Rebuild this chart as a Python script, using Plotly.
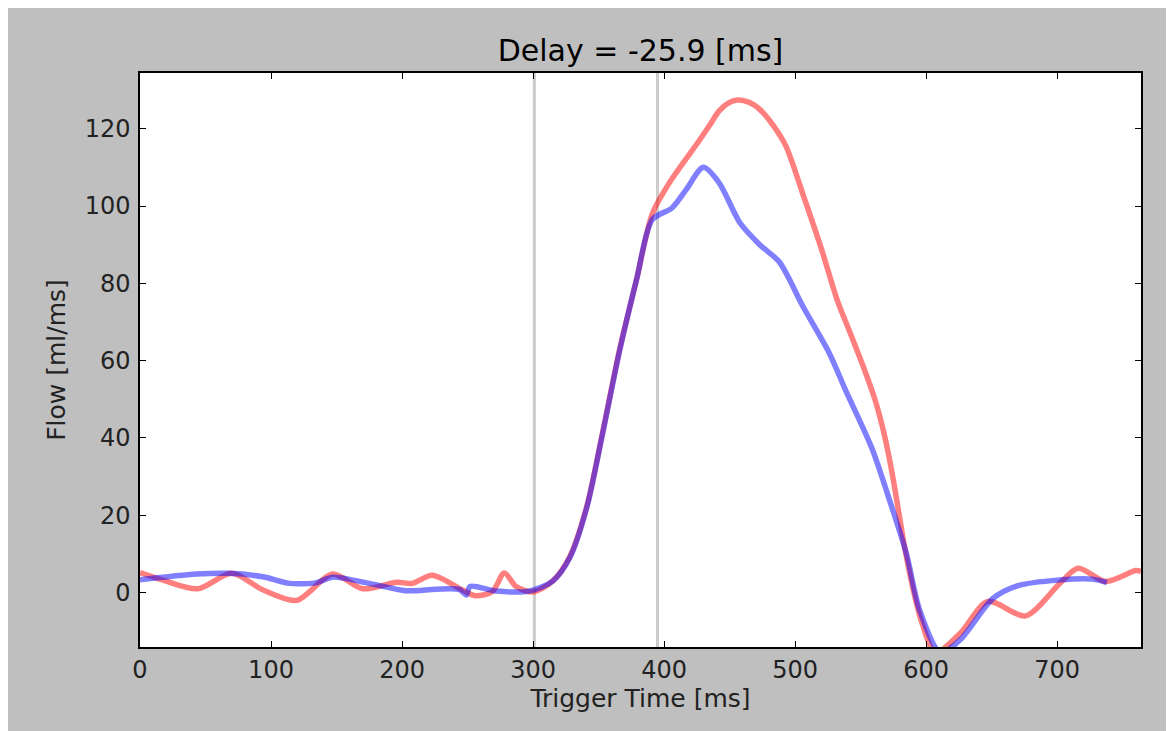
import plotly.graph_objects as go

# Data
red_t = [0, 17, 44, 70, 94, 119.5, 147, 170, 196, 208, 223, 246, 256, 269, 278, 287, 300, 315,
         328, 341, 353, 366, 379, 391, 404, 427, 435, 442, 449, 456, 465, 473, 483, 493, 507, 520, 532,
         542, 552, 561, 568, 574, 579, 584, 590, 597,
         607, 626, 647, 676, 702, 716, 737, 760, 764]
red_flow = [5.2, 3.3, 1.0, 5.0, 0.7, -2.0, 4.8, 1.0, 2.7, 2.4, 4.5, 0.7, -0.8, 0.3, 5.1, 1.6, 0.2, 3.0,
            9.3, 22.3, 41.3, 62.8, 81.0, 98.0, 106.0, 117.0, 121.0, 124.6, 126.6, 127.4, 126.8, 125.0, 121.0, 115.5, 102.0, 89.0, 75.8,
            67.2, 58.5, 49.9, 41.0, 31.0, 21.0, 11.0, 1.0, -8.0,
            -15.5, -10.5, -2.3, -6.0, 2.4, 6.3, 2.9, 5.7, 5.5]

blue_t = [0, 43, 68, 94, 114, 135, 147, 175, 203, 226, 244, 249, 252, 272, 297, 315,
          328, 341, 353, 366, 379, 391, 406, 417, 430, 442, 458, 473, 488, 506, 526, 539, 549, 559, 572, 585, 595,
          611, 626, 651, 669, 702, 727, 738]
blue_flow = [3.3, 4.8, 5.0, 4.1, 2.4, 2.6, 4.0, 2.4, 0.5, 0.9, 0.8, -0.6, 1.6, 0.4, 0.4, 3.0,
             9.0, 22.0, 41.0, 62.5, 81.0, 96.5, 99.5, 104.3, 110.0, 106.0, 95.6, 90.0, 85.5, 74.0, 62.0, 52.0, 44.7, 37.0, 24.0, 10.0, -4.5,
             -15.5, -12.2, -1.5, 1.7, 3.3, 3.5, 2.6]

vline_t = [301, 395]
x_ticks = [0, 100, 200, 300, 400, 500, 600, 700]
y_ticks = [0, 20, 40, 60, 80, 100, 120]
title_text = "Delay = -25.9 [ms]"

# The page body adds an 8px offset, so the figure is laid out relative to it
OFF = 8
W, H = 1174, 731
L, T = 140 - OFF, 73 - OFF
R = W - (1141 - OFF)
B = H - (647 - OFF)
pw = W - L - R
ph = H - T - B

fig = go.Figure()
fig.add_trace(go.Scatter(x=red_t, y=red_flow, mode="lines",
                         line=dict(color="rgba(255,0,0,0.5)", width=5.5, shape="spline", smoothing=0.8),
                         showlegend=False))
fig.add_trace(go.Scatter(x=blue_t, y=blue_flow, mode="lines",
                         line=dict(color="rgba(0,0,255,0.5)", width=5.5, shape="spline", smoothing=0.8),
                         showlegend=False))

for v in vline_t:
    fig.add_shape(type="line", x0=v, x1=v, y0=0, y1=1, xref="x", yref="paper",
                  line=dict(color="rgb(204,204,204)", width=3), layer="below")

font_family = "DejaVu Sans"
axis_common = dict(showline=True, linecolor="black", linewidth=1.5, mirror="ticks",
                   ticks="inside", ticklen=6, tickwidth=1, tickcolor="black",
                   showgrid=False, zeroline=False,
                   tickfont=dict(family=font_family, size=24, color="#222"))

fig.update_layout(
    width=W, height=H,
    margin=dict(l=L, r=R, t=T, b=B),
    paper_bgcolor="#bfbfbf", plot_bgcolor="white",
    title=dict(text=title_text, x=(L + pw / 2) / W, xanchor="center",
               y=1 - (50 - OFF) / H, yanchor="middle",
               font=dict(family=font_family, size=30, color="black")),
    xaxis=dict(range=[0, 764], tickvals=x_ticks, ticktext=[str(v) for v in x_ticks],
               title=dict(text="Trigger Time [ms]", standoff=6,
                          font=dict(family=font_family, size=25, color="#222")),
               **axis_common),
    yaxis=dict(range=[-14.06, 134.4], tickvals=y_ticks, ticktext=[str(v) for v in y_ticks],
               title=dict(text="Flow [ml/ms]", standoff=12,
                          font=dict(family=font_family, size=25, color="#222")),
               ticklabelstandoff=3,
               **axis_common),
)

fig.write_html("out.html")
